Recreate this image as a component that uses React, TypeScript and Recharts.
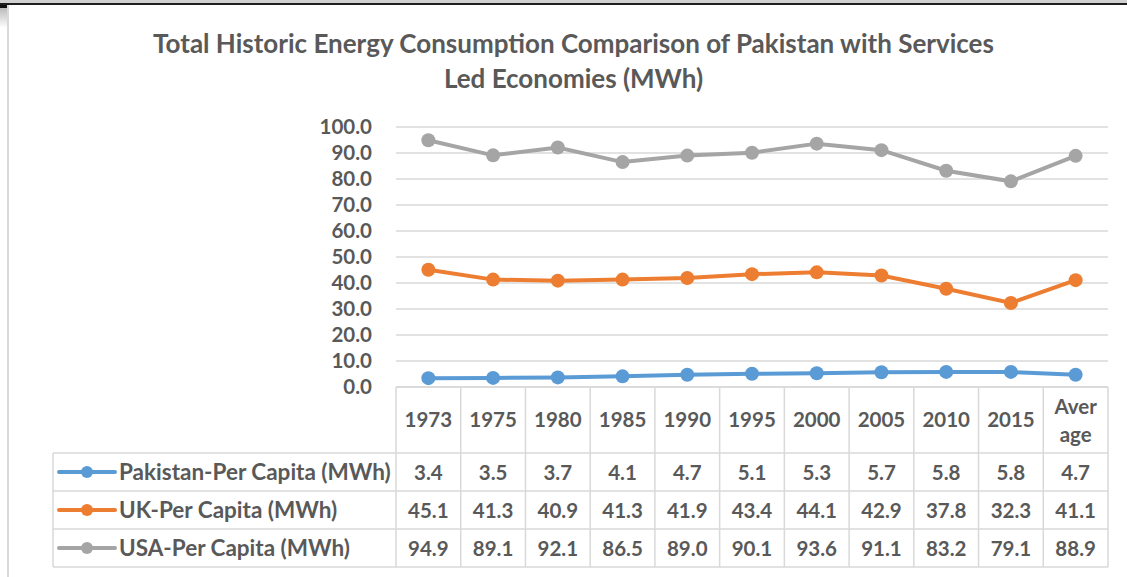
import { CartesianGrid, Line, LineChart, XAxis, YAxis } from 'recharts'

const categories = ['1973', '1975', '1980', '1985', '1990', '1995', '2000', '2005', '2010', '2015', 'Average']
const pakistan = [3.4, 3.5, 3.7, 4.1, 4.7, 5.1, 5.3, 5.7, 5.8, 5.8, 4.7]
const uk = [45.1, 41.3, 40.9, 41.3, 41.9, 43.4, 44.1, 42.9, 37.8, 32.3, 41.1]
const usa = [94.9, 89.1, 92.1, 86.5, 89.0, 90.1, 93.6, 91.1, 83.2, 79.1, 88.9]
const yTicks = [0, 10, 20, 30, 40, 50, 60, 70, 80, 90, 100]

const seriesList = [
  { key: 'pakistan', name: 'Pakistan-Per Capita (MWh)', color: '#5b9bd5', values: pakistan },
  { key: 'uk', name: 'UK-Per Capita (MWh)', color: '#ed7d31', values: uk },
  { key: 'usa', name: 'USA-Per Capita (MWh)', color: '#a5a5a5', values: usa },
]

const data = categories.map((year, i) => ({
  year,
  pakistan: pakistan[i],
  uk: uk[i],
  usa: usa[i],
}))

const W = 1127
const H = 577
const PLOT_LEFT = 396
const PLOT_RIGHT = 1108
const PLOT_TOP = 127
const PLOT_BOTTOM = 387
const HEADER_H = 66
const ROW_H = 38
const LEGEND_LEFT = 53
const TEXT = '#595959'
const BORDER = '#d9d9d9'
const FONT = 'Lato, "Open Sans", sans-serif'
const HALF = (PLOT_RIGHT - PLOT_LEFT) / categories.length / 2

const TableTick = (props: any) => {
  const { x, payload, index } = props
  const top = PLOT_BOTTOM
  const bottom = top + HEADER_H + ROW_H * 3
  const label = payload.value as string
  return (
    <g fontFamily={FONT} fontWeight={700} fill={TEXT} fontSize={20.5}>
      <line x1={x + HALF} x2={x + HALF} y1={top} y2={bottom} stroke={BORDER} strokeWidth={1.5} />
      {index === 0 && (
        <g>
          <line x1={x - HALF} x2={x - HALF} y1={top} y2={bottom} stroke={BORDER} strokeWidth={1.5} />
          <line x1={LEGEND_LEFT} x2={LEGEND_LEFT} y1={top + HEADER_H} y2={bottom} stroke={BORDER} strokeWidth={1.5} />
          {[0, 1, 2, 3].map((r) => (
            <line
              key={r}
              x1={LEGEND_LEFT}
              x2={PLOT_RIGHT}
              y1={top + HEADER_H + r * ROW_H}
              y2={top + HEADER_H + r * ROW_H}
              stroke={BORDER}
              strokeWidth={1.5}
            />
          ))}
          {seriesList.map((s, r) => {
            const cy = top + HEADER_H + r * ROW_H + ROW_H / 2
            return (
              <g key={s.key}>
                <line x1={59} x2={115} y1={cy} y2={cy} stroke={s.color} strokeWidth={4} strokeLinecap="round" />
                <circle cx={87} cy={cy} r={6} fill={s.color} />
                <text x={119} y={cy + 7.5} textAnchor="start" fontSize={22.5}>
                  {s.name}
                </text>
              </g>
            )
          })}
        </g>
      )}
      {label === 'Average' ? (
        <text x={x} textAnchor="middle">
          <tspan x={x} y={top + 27}>Aver</tspan>
          <tspan x={x} y={top + 55}>age</tspan>
        </text>
      ) : (
        <text x={x} y={top + 40} textAnchor="middle">
          {label}
        </text>
      )}
      {seriesList.map((s, r) => (
        <text key={s.key} x={x} y={top + HEADER_H + r * ROW_H + ROW_H / 2 + 7.5} textAnchor="middle">
          {s.values[index].toFixed(1)}
        </text>
      ))}
    </g>
  )
}

export default function App() {
  return (
    <div style={{ position: 'absolute', left: 0, top: 0, width: W, height: H, background: '#fff', overflow: 'hidden' }}>
      <div style={{ position: 'absolute', left: 0, top: 0, width: W, height: 3, background: '#d0d0d0' }} />
      <div style={{ position: 'absolute', left: 0, top: 3, width: W, height: 2, background: '#1e1e1e' }} />
      <div style={{ position: 'absolute', left: 0, top: 5, width: 7, height: 3, background: '#111' }} />
      <div style={{ position: 'absolute', left: 0, top: 8, width: 7, height: 20, background: 'linear-gradient(#bbb, #fff)' }} />
      <div style={{ position: 'absolute', left: 7, top: 5, width: 2, height: H, background: '#d9d9d9' }} />
      <div
        style={{
          position: 'absolute',
          left: 0,
          width: 1147,
          top: 26,
          textAlign: 'center',
          fontFamily: FONT,
          fontWeight: 700,
          fontSize: 26,
          lineHeight: '35px',
          color: TEXT,
        }}
      >
        Total Historic Energy Consumption Comparison of Pakistan with Services
        <br />
        Led Economies (MWh)
      </div>
      <div style={{ position: 'absolute', left: 0, top: 0 }}>
        <LineChart
          width={W}
          height={H}
          data={data}
          margin={{ top: PLOT_TOP, right: W - PLOT_RIGHT, bottom: 0, left: PLOT_LEFT - 80 }}
        >
          <CartesianGrid stroke={BORDER} strokeWidth={1.5} vertical={false} />
          <XAxis
            dataKey="year"
            interval={0}
            padding={{ left: HALF, right: HALF }}
            axisLine={{ stroke: BORDER, strokeWidth: 1.5 }}
            tickLine={false}
            tickSize={0}
            tickMargin={0}
            height={H - PLOT_BOTTOM}
            tick={<TableTick />}
          />
          <YAxis
            width={80}
            domain={[0, 100]}
            ticks={yTicks}
            interval={0}
            axisLine={false}
            tickLine={false}
            tickSize={0}
            tickMargin={24}
            tickFormatter={(v) => Number(v).toFixed(1)}
            tick={{ fill: TEXT, fontSize: 20.5, fontWeight: 700, fontFamily: FONT }}
          />
          {seriesList.map((s) => (
            <Line
              key={s.key}
              type="linear"
              dataKey={s.key}
              name={s.name}
              stroke={s.color}
              strokeWidth={4}
              dot={{ r: 7, fill: s.color, stroke: s.color, strokeWidth: 0 }}
              isAnimationActive={false}
            />
          ))}
        </LineChart>
      </div>
    </div>
  )
}
